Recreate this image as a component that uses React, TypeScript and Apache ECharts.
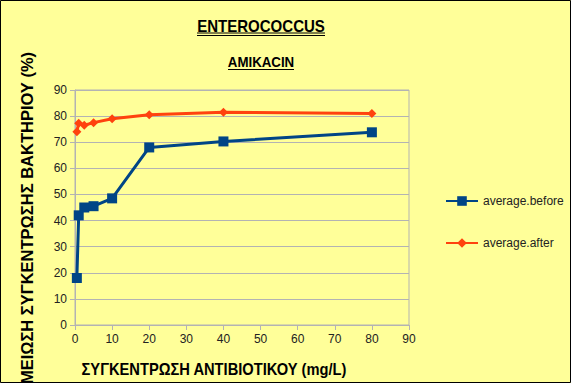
import React, { useEffect, useRef } from "react";
import * as echarts from "echarts";

const concentrations = [0.5, 1, 2.5, 5, 10, 20, 40, 80];
const averageBefore = [18, 42, 45, 45.5, 48.5, 68, 70.3, 73.8];
const averageAfter = [74, 77.3, 76.5, 77.5, 79, 80.5, 81.5, 81];
const seriesNames = ["average.before", "average.after"];

export default function App() {
  const ref = useRef<HTMLDivElement>(null);
  useEffect(() => {
    if (!ref.current) return;
    const chart = echarts.init(ref.current, undefined, { renderer: "svg" });
    const font = "Liberation Sans, Arial, sans-serif";
    chart.setOption({
      animation: false,
      backgroundColor: "#ffff99",
      textStyle: { fontFamily: font },
      grid: { left: 75, right: 162, top: 90, bottom: 58, show: true, borderColor: "#b3b3b3", borderWidth: 1 },
      xAxis: {
        type: "value", min: 0, max: 90, interval: 10,
        axisLine: { show: true, onZero: false, lineStyle: { color: "#b3b3b3" } },
        axisTick: { show: true, length: 5, lineStyle: { color: "#b3b3b3" } },
        axisLabel: { color: "#222", fontSize: 12, margin: 8, fontFamily: font },
        splitLine: { show: false },
      },
      yAxis: {
        type: "value", min: 0, max: 90, interval: 10,
        axisLine: { show: true, lineStyle: { color: "#b3b3b3" } },
        axisTick: { show: true, length: 5, lineStyle: { color: "#b3b3b3" } },
        axisLabel: { color: "#222", fontSize: 12, margin: 8, fontFamily: font },
        splitLine: { show: true, lineStyle: { color: "#b3b3b3" } },
      },
      legend: {
        orient: "vertical", left: 440, top: 190, itemGap: 30, itemWidth: 32, itemHeight: 12,
        textStyle: { color: "#222", fontSize: 12, fontFamily: font },
        data: seriesNames,
      },
      series: [
        {
          name: seriesNames[0], type: "line",
          data: concentrations.map((c, i) => [c, averageBefore[i]]),
          symbol: "rect", symbolSize: 10,
          lineStyle: { color: "#004586", width: 3 },
          itemStyle: { color: "#004586" },
        },
        {
          name: seriesNames[1], type: "line",
          data: concentrations.map((c, i) => [c, averageAfter[i]]),
          symbol: "diamond", symbolSize: 9,
          lineStyle: { color: "#ff420e", width: 3 },
          itemStyle: { color: "#ff420e" },
        },
      ],
      graphic: [
        { type: "rect", shape: { x: 0.5, y: 0.5, width: 570, height: 382 }, style: { fill: "none", stroke: "#000", lineWidth: 1 }, silent: true },
        { type: "text", x: 261, y: 26, scaleX: 0.94, style: { text: "ENTEROCOCCUS", font: `bold 16px ${font}`, fill: "#000", align: "center", verticalAlign: "middle" } },
        { type: "line", shape: { x1: 197, y1: 33, x2: 325, y2: 33 }, style: { stroke: "#000", lineWidth: 1 } },
        { type: "line", shape: { x1: 197, y1: 35.5, x2: 325, y2: 35.5 }, style: { stroke: "#000", lineWidth: 1 } },
        { type: "text", x: 261, y: 62, scaleX: 0.95, style: { text: "AMIKACIN", font: `bold 14px ${font}`, fill: "#000", align: "center", verticalAlign: "middle" } },
        { type: "line", shape: { x1: 228, y1: 69.5, x2: 294, y2: 69.5 }, style: { stroke: "#000", lineWidth: 1 } },
        { type: "text", x: 214, y: 369, scaleX: 0.89, style: { text: "ΣΥΓΚΕΝΤΡΩΣΗ ΑΝΤΙΒΙΟΤΙΚΟΥ (mg/L)", font: `bold 16.5px ${font}`, fill: "#000", align: "center", verticalAlign: "middle" } },
        { type: "text", x: 27, y: 218, rotation: Math.PI / 2, style: { text: "ΜΕΙΩΣΗ ΣΥΓΚΕΝΤΡΩΣΗΣ ΒΑΚΤΗΡΙΟΥ (%)", font: `bold 16.5px ${font}`, fill: "#000", align: "center", verticalAlign: "middle" } },
      ],
    });
    return () => chart.dispose();
  }, []);
  return <div ref={ref} style={{ position: "fixed", left: 0, top: 0, width: 571, height: 383 }} />;
}
